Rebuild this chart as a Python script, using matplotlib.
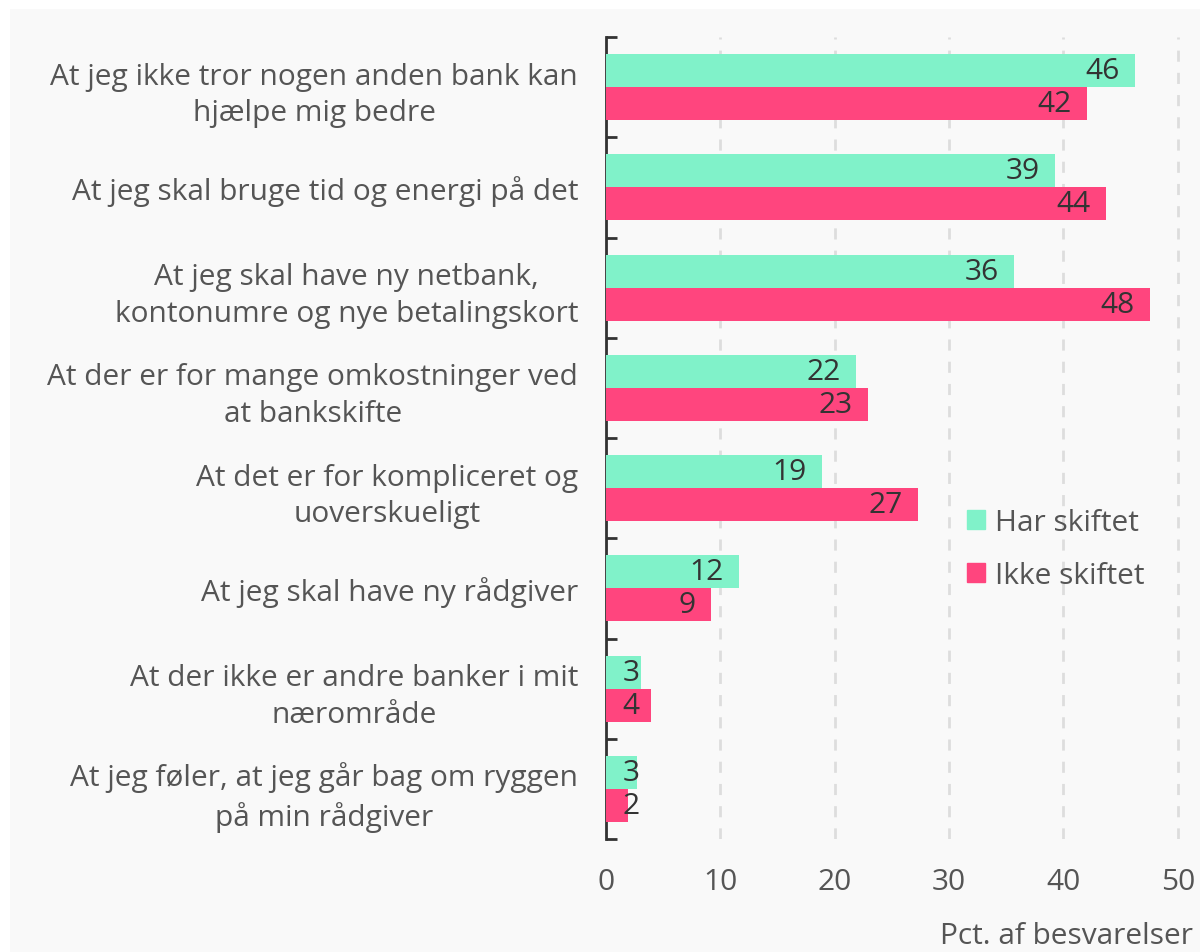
import matplotlib
matplotlib.use("Agg")
import matplotlib.pyplot as plt
from matplotlib.patches import Rectangle, Patch
import numpy as np

categories = [
    "At jeg ikke tror nogen anden bank kan\nhjælpe mig bedre",
    "At jeg skal bruge tid og energi på det",
    "At jeg skal have ny netbank,\nkontonumre og nye betalingskort",
    "At der er for mange omkostninger ved\nat bankskifte",
    "At det er for kompliceret og\nuoverskueligt",
    "At jeg skal have ny rådgiver",
    "At der ikke er andre banker i mit\nnærområde",
    "At jeg føler, at jeg går bag om ryggen\npå min rådgiver",
]
har_skiftet = [46.3, 39.3, 35.7, 21.9, 18.9, 11.6, 3.05, 2.7]
ikke_skiftet = [42.1, 43.7, 47.6, 22.9, 27.3, 9.2, 3.9, 1.9]
har_labels = ["46", "39", "36", "22", "19", "12", "3", "3"]
ikke_labels = ["42", "44", "48", "23", "27", "9", "4", "2"]
xticks = [0, 10, 20, 30, 40, 50]
series_names = ["Har skiftet", "Ikke skiftet"]

GREEN = "#80F2C9"
PINK = "#FF457E"
BG = "#F9F9F9"
TXT = "#555555"
VAL = "#333333"
FS = 21.5

plt.rcParams['font.family'] = ['Open Sans', 'DejaVu Sans']

fig = plt.figure(figsize=(12, 9.53), dpi=100)
fig.patch.set_facecolor("white")
fig.patches.append(Rectangle((10/1200, 0), 1 - 10/1200, 1 - 10/953,
                             transform=fig.transFigure, facecolor=BG,
                             edgecolor="none", zorder=-10))

ax = fig.add_axes([606/1200, 1 - 840/953, (1180 - 606)/1200, (840 - 38)/953])
ax.set_facecolor(BG)

y = np.arange(len(categories))
h = 0.33
ax.barh(y - h/2, har_skiftet, height=h, color=GREEN, zorder=3, label=series_names[0])
ax.barh(y + h/2, ikke_skiftet, height=h, color=PINK, zorder=3, label=series_names[1])

def put_label(val, yy, txt):
    if val < 4.5:
        ax.annotate(txt, (0, yy), xytext=(12, 0), textcoords="offset points",
                    ha="left", va="center", fontsize=FS, color=VAL, zorder=4)
    else:
        ax.annotate(txt, (val, yy), xytext=(-11, 0), textcoords="offset points",
                    ha="right", va="center", fontsize=FS, color=VAL, zorder=4)

for i in range(len(categories)):
    put_label(har_skiftet[i], y[i] - h/2, har_labels[i])
    put_label(ikke_skiftet[i], y[i] + h/2, ikke_labels[i])

ax.set_xlim(0, 50.2)
ax.set_ylim(len(categories) - 0.5, -0.5)

ax.set_xticks(xticks)
ax.set_xticklabels([str(t) for t in xticks], fontsize=FS, color=TXT)
ax.tick_params(axis="x", length=0, pad=20)
ax.grid(axis="x", color="#DDDDDD", linestyle=(0, (4, 4)), linewidth=2, zorder=0)
ax.set_axisbelow(True)

ax.set_yticks(y)
ax.set_yticklabels(categories, fontsize=FS, color=TXT, linespacing=1.35)
for lab in ax.get_yticklabels():
    lab.set_multialignment("center")
ax.tick_params(axis="y", which="major", length=0, pad=20)
ax.set_yticks(np.arange(-0.5, len(categories), 1.0), minor=True)
ax.tick_params(axis="y", which="minor", length=8, width=2, direction="in",
               color="#333333")

for s in ["top", "right", "bottom"]:
    ax.spines[s].set_visible(False)
ax.spines["left"].set_color("#333333")
ax.spines["left"].set_linewidth(2)

fig.text(1193/1200, 1 - 937/953, "Pct. af besvarelser", ha="right", va="center",
         fontsize=FS, color=TXT)

handles = [Patch(color=GREEN), Patch(color=PINK)]
leg = ax.legend(handles, series_names, loc="center left",
                bbox_to_anchor=((967 - 606) / (1180 - 606), 1 - (550 - 38) / (840 - 38)),
                frameon=False, fontsize=FS, handlelength=0.6, handleheight=0.6,
                handletextpad=0.35, labelspacing=0.8, borderpad=0, borderaxespad=0,
                labelcolor=TXT)

fig.savefig("out.png", dpi=100, facecolor=fig.get_facecolor())
